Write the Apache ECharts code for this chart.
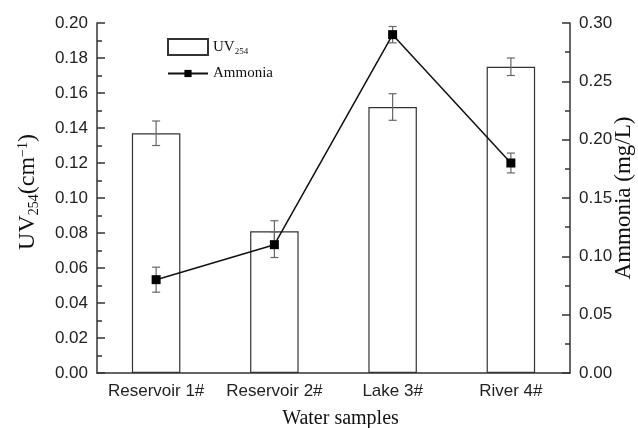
<!DOCTYPE html>
<html>
<head>
<meta charset="utf-8">
<script src="https://cdn.jsdelivr.net/npm/echarts@6/dist/echarts.min.js"></script>
<style>
html,body{margin:0;padding:0;background:#fff;}
#c{width:638px;height:428px;}
</style>
</head>
<body>
<div id="c"></div>
<script>
const categories = ['Reservoir 1#', 'Reservoir 2#', 'Lake 3#', 'River 4#'];
const uv254 = [0.137, 0.081, 0.152, 0.175];
const uv254Err = [0.007, 0.006, 0.0076, 0.005];
const ammonia = [0.080, 0.110, 0.290, 0.180];
const ammoniaErr = [0.0107, 0.011, 0.007, 0.0085];
const leftTicks = { min: 0, max: 0.20, interval: 0.02 };
const rightTicks = { min: 0, max: 0.30, interval: 0.05 };

const chart = echarts.init(document.getElementById('c'), null, { renderer: 'canvas' });

function errRender(params, api) {
  const x = api.value(0);
  const lo = api.coord([x, api.value(1)]);
  const hi = api.coord([x, api.value(2)]);
  const cap = 4;
  const style = { stroke: '#666', lineWidth: 1.2 };
  return {
    type: 'group',
    children: [
      { type: 'line', shape: { x1: lo[0], y1: lo[1], x2: hi[0], y2: hi[1] }, style },
      { type: 'line', shape: { x1: lo[0] - cap, y1: lo[1], x2: lo[0] + cap, y2: lo[1] }, style },
      { type: 'line', shape: { x1: hi[0] - cap, y1: hi[1], x2: hi[0] + cap, y2: hi[1] }, style }
    ]
  };
}

const sans = 'Liberation Sans, Arial, sans-serif';
const serif = 'Liberation Serif, Times New Roman, serif';

chart.setOption({
  backgroundColor: '#fff',
  animation: false,
  grid: { left: 97, right: 68, top: 23, bottom: 55, outerBoundsMode: 'none', containLabel: false },
  legend: [
    {
      data: [{ name: 'UV254', icon: 'rect' }],
      left: 162, top: 33,
      itemWidth: 40, itemHeight: 16,
      formatter: () => '{a|UV}{s|254}',
      textStyle: {
        fontFamily: serif, fontSize: 15, color: '#111',
        rich: {
          a: { fontFamily: serif, fontSize: 15, color: '#111' },
          s: { fontFamily: serif, fontSize: 9, color: '#111', padding: [9, 0, 0, 0] }
        }
      }
    },
    {
      data: ['Ammonia'],
      left: 162, top: 61,
      itemWidth: 40, itemHeight: 9,
      textStyle: { fontFamily: serif, fontSize: 15, color: '#111' }
    }
  ],
  xAxis: {
    type: 'category',
    data: categories,
    name: 'Water samples',
    nameLocation: 'middle',
    nameGap: 36,
    nameTextStyle: { fontFamily: serif, fontSize: 20, color: '#111', padding: [0, 0, 0, 14] },
    axisLine: { lineStyle: { color: '#333', width: 1.5 } },
    axisTick: { show: false },
    axisLabel: { fontFamily: sans, fontSize: 17, color: '#222', margin: 10, interval: 0 }
  },
  yAxis: [
    {
      type: 'value',
      min: leftTicks.min, max: leftTicks.max, interval: leftTicks.interval,
      name: '{a|UV}{s|254}{a|(cm}{p|−1}{a|)}',
      nameLocation: 'middle',
      nameRotate: 90,
      nameGap: 56,
      nameTextStyle: {
        fontFamily: serif, fontSize: 24, color: '#111', padding: [0, 0, 0, 12],
        rich: {
          a: { fontFamily: serif, fontSize: 24, color: '#111' },
          s: { fontFamily: serif, fontSize: 14, color: '#111', padding: [12, 0, 0, 0] },
          p: { fontFamily: serif, fontSize: 14, color: '#111', padding: [0, 0, 10, 0] }
        }
      },
      axisLine: { show: true, lineStyle: { color: '#333', width: 1.5 } },
      axisTick: { show: true, inside: true, length: 8, lineStyle: { color: '#333', width: 1.5 } },
      minorTick: { show: true, splitNumber: 2, length: 5, lineStyle: { color: '#333', width: 1.5 } },
      splitLine: { show: false },
      axisLabel: { fontFamily: sans, fontSize: 17, color: '#222', margin: 9,
        formatter: v => v.toFixed(2) }
    },
    {
      type: 'value',
      position: 'right',
      min: rightTicks.min, max: rightTicks.max, interval: rightTicks.interval,
      name: 'Ammonia (mg/L)',
      nameLocation: 'middle',
      nameRotate: 90,
      nameGap: 42,
      nameMoveOverlap: false,
      nameTextStyle: { fontFamily: serif, fontSize: 23, color: '#111' },
      axisLine: { show: true, lineStyle: { color: '#333', width: 1.5 } },
      axisTick: { show: true, inside: true, length: 8, lineStyle: { color: '#333', width: 1.5 } },
      minorTick: { show: true, splitNumber: 2, length: 5, lineStyle: { color: '#333', width: 1.5 } },
      splitLine: { show: false },
      axisLabel: { fontFamily: sans, fontSize: 17, color: '#222', margin: 9,
        formatter: v => v.toFixed(2) }
    }
  ],
  series: [
    {
      name: 'UV254',
      type: 'bar',
      yAxisIndex: 0,
      data: uv254,
      barWidth: '41%',
      itemStyle: { color: '#fff', borderColor: '#333', borderWidth: 1.2 },
      z: 2
    },
    {
      name: 'uvErr',
      type: 'custom',
      yAxisIndex: 0,
      renderItem: errRender,
      data: uv254.map((v, i) => [i, v - uv254Err[i], v + uv254Err[i]]),
      z: 3
    },
    {
      name: 'ammErr',
      type: 'custom',
      yAxisIndex: 1,
      renderItem: errRender,
      data: ammonia.map((v, i) => [i, v - ammoniaErr[i], v + ammoniaErr[i]]),
      z: 4
    },
    {
      name: 'Ammonia',
      type: 'line',
      yAxisIndex: 1,
      data: ammonia,
      symbol: 'rect',
      symbolSize: 9,
      itemStyle: { color: '#000' },
      lineStyle: { color: '#111', width: 1.5 },
      z: 5
    }
  ]
});
</script>
</body>
</html>
